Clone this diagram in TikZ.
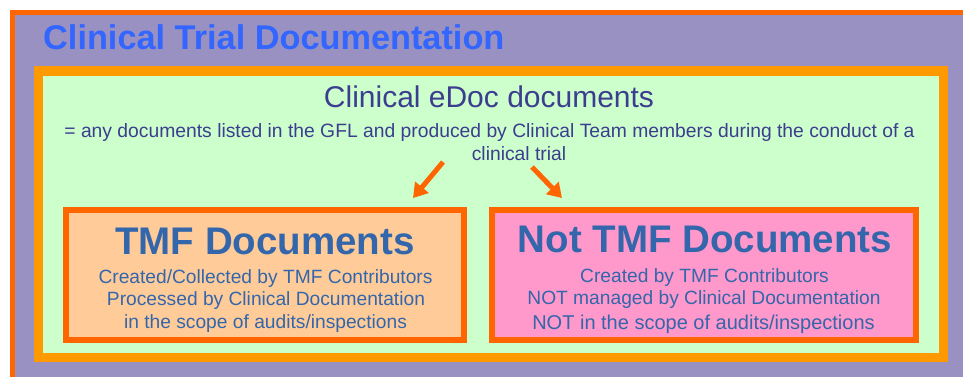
\documentclass[tikz,border=0pt]{standalone}
\usepackage{fontspec}
\setmainfont{Liberation Sans}
\usetikzlibrary{arrows.meta}
\definecolor{outerfill}{HTML}{9891C2}
\definecolor{redorange}{HTML}{FF6600}
\definecolor{orange}{HTML}{FF9900}
\definecolor{greenfill}{HTML}{CCFFCC}
\definecolor{titleblue}{HTML}{3366FF}
\definecolor{darktext}{HTML}{3D3D8F}
\definecolor{boxtext}{HTML}{3366AA}
\definecolor{peach}{HTML}{FFCC99}
\definecolor{pink}{HTML}{FF99CC}
\tikzset{
  txt/.style={inner sep=0pt, anchor=base},
  docbox/.style={draw=redorange, line width=6.5pt},
  bigarrow/.style={draw=redorange, line width=5pt, -{Triangle[length=14pt,width=17pt]}}
}
\begin{document}
\begin{tikzpicture}[x=1pt,y=-1pt]
\useasboundingbox (0,0) rectangle (963,376);
\clip (0,0) rectangle (963,376);
% outer box
\draw[fill=outerfill, draw=redorange, line width=5pt] (12.5,12.5) rectangle (1000,420);
\node[txt, anchor=base west, text=titleblue, font=\bfseries\fontsize{34.3}{36}\selectfont] (title) at (43,49) {Clinical Trial Documentation};
% inner box
\draw[fill=greenfill, draw=orange, line width=9.5pt] (38.5,71) rectangle (943.5,357.5);
\node[txt, text=darktext, font=\fontsize{30}{32}\selectfont] (edoc) at (489,107) {Clinical eDoc documents};
\node[txt, text=darktext, font=\fontsize{19.3}{21}\selectfont] (def1) at (489.5,137) {= any documents listed in the GFL and produced by Clinical Team members during the conduct of a};
\node[txt, text=darktext, font=\fontsize{19.3}{21}\selectfont] (def2) at (519,160) {clinical trial};
% doc boxes
\draw[docbox, fill=peach] (66,210) rectangle (464,340);
\draw[docbox, fill=pink] (492,210) rectangle (916,340);
\node[txt, text=boxtext, font=\bfseries\fontsize{38.5}{40}\selectfont] (tmf) at (265,254) {TMF Documents};
\node[txt, text=boxtext, font=\fontsize{19.2}{21}\selectfont] (tmf1) at (265.5,283) {Created/Collected by TMF Contributors};
\node[txt, text=boxtext, font=\fontsize{19.2}{21}\selectfont] (tmf2) at (266,305) {Processed by Clinical Documentation};
\node[txt, text=boxtext, font=\fontsize{19.2}{21}\selectfont] (tmf3) at (265.5,328) {in the scope of audits/inspections};
\node[txt, text=boxtext, font=\bfseries\fontsize{38.5}{40}\selectfont] (ntmf) at (705,252) {Not TMF Documents};
\node[txt, text=boxtext, font=\fontsize{19.2}{21}\selectfont] (ntmf1) at (704.5,282) {Created by TMF Contributors};
\node[txt, text=boxtext, font=\fontsize{19.2}{21}\selectfont] (ntmf2) at (704,304) {NOT managed by Clinical Documentation};
\node[txt, text=boxtext, font=\fontsize{20}{22}\selectfont] (ntmf3) at (703.5,329) {NOT in the scope of audits/inspections};
% arrows
\coordinate (a1s) at (443,162);
\coordinate (a1e) at (413,198);
\coordinate (a2s) at (532,167);
\coordinate (a2e) at (562,198);
\draw[bigarrow] (a1s) -- (a1e);
\draw[bigarrow] (a2s) -- (a2e);
\end{tikzpicture}
\end{document}
